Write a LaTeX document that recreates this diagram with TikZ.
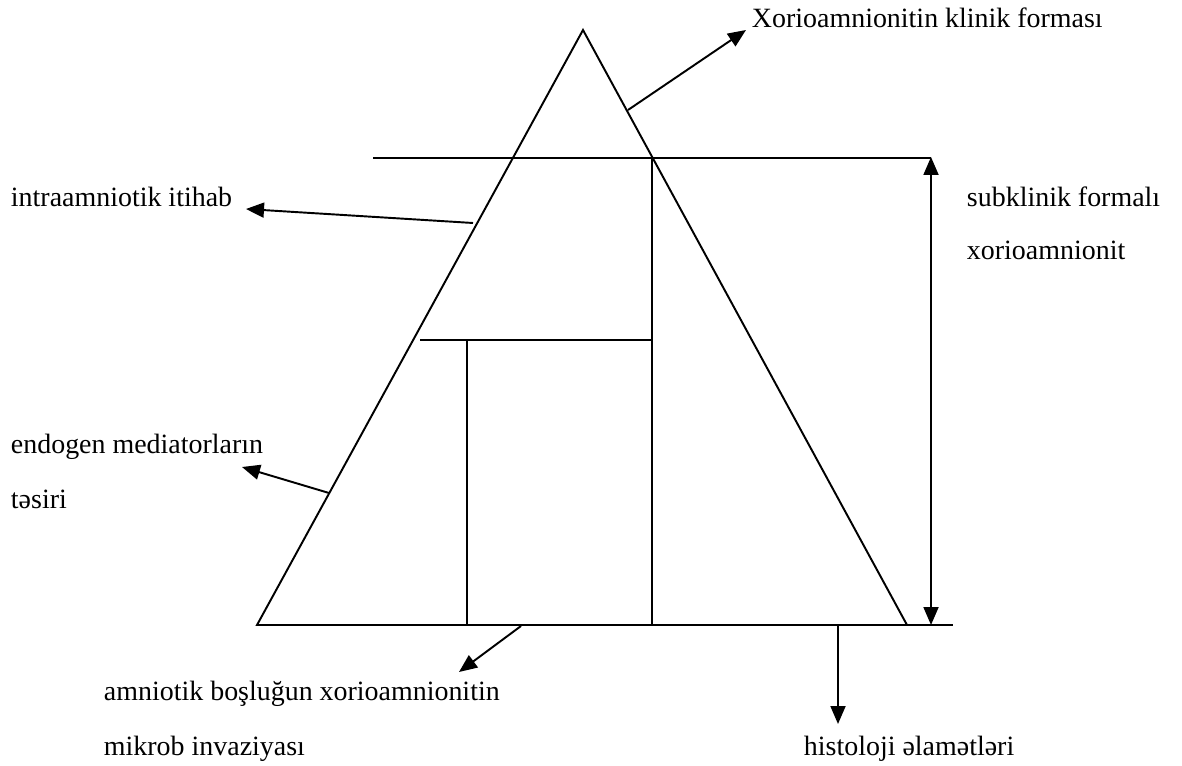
\documentclass[tikz,border=0pt]{standalone}
\usepackage{fontspec}
\setmainfont{Liberation Serif}
\usetikzlibrary{arrows.meta,positioning}

\tikzset{
    tip/.tip={Triangle[length=0.36cm,width=0.3cm]},
    pointer/.style={line width=1.1pt, -tip},
    twoway/.style={line width=1.1pt, tip-tip},
    label text/.style={anchor=base west, inner sep=0pt, font=\fontsize{15.9}{19}\selectfont}
}

\begin{document}
\begin{tikzpicture}[x=0.02cm, y=-0.02cm, line width=1.1pt]
    \useasboundingbox (0,0) rectangle (1182,766);
    % uchbucaq ve daxili xetler
    \coordinate (apex) at (583,30);
    \coordinate (baseL) at (257,625);
    \coordinate (baseR) at (907,625);
    \draw (apex) -- (baseL) -- (baseR) -- cycle;
    \draw (baseR) -- (953,625);
    \draw (373,158) -- (931,158);
    \draw (652,158) -- (652,625);
    \draw (420,340) -- (652,340);
    \draw (467,340) -- (467,625);
    % etiketler
    \node[label text] (klinik) at (751,28) {Xorioamnionitin klinik forması};
    \node[label text] (itihab) at (10,207) {intraamniotik itihab};
    \node[label text] (endogen) at (10,453) {endogen mediatorların};
    \node[label text] (tesiri) at (10,508) {təsiri};
    \node[label text] (amniotik) at (103,700) {amniotik boşluğun xorioamnionitin};
    \node[label text] (mikrob) at (103,755) {mikrob invaziyası};
    \node[label text] (histoloji) at (803,755) {histoloji əlamətləri};
    \node[label text] (subklinik) at (966,207) {subklinik formalı};
    \node[label text] (xorio) at (966,260) {xorioamnionit};
    % oxlar
    \coordinate (k1) at (628,110);  \coordinate (k2) at (746,30);
    \coordinate (i1) at (473,223);  \coordinate (i2) at (246,209);
    \coordinate (e1) at (329,493);  \coordinate (e2) at (242,467);
    \coordinate (a1) at (521,626);  \coordinate (a2) at (459,672);
    \coordinate (h1) at (838,626);  \coordinate (h2) at (838,724);
    \coordinate (s1) at (931,157);  \coordinate (s2) at (931,625);
    \draw[pointer] (k1) -- (k2);
    \draw[pointer] (i1) -- (i2);
    \draw[pointer] (e1) -- (e2);
    \draw[pointer] (a1) -- (a2);
    \draw[pointer] (h1) -- (h2);
    \draw[twoway] (s1) -- (s2);
\end{tikzpicture}
\end{document}
